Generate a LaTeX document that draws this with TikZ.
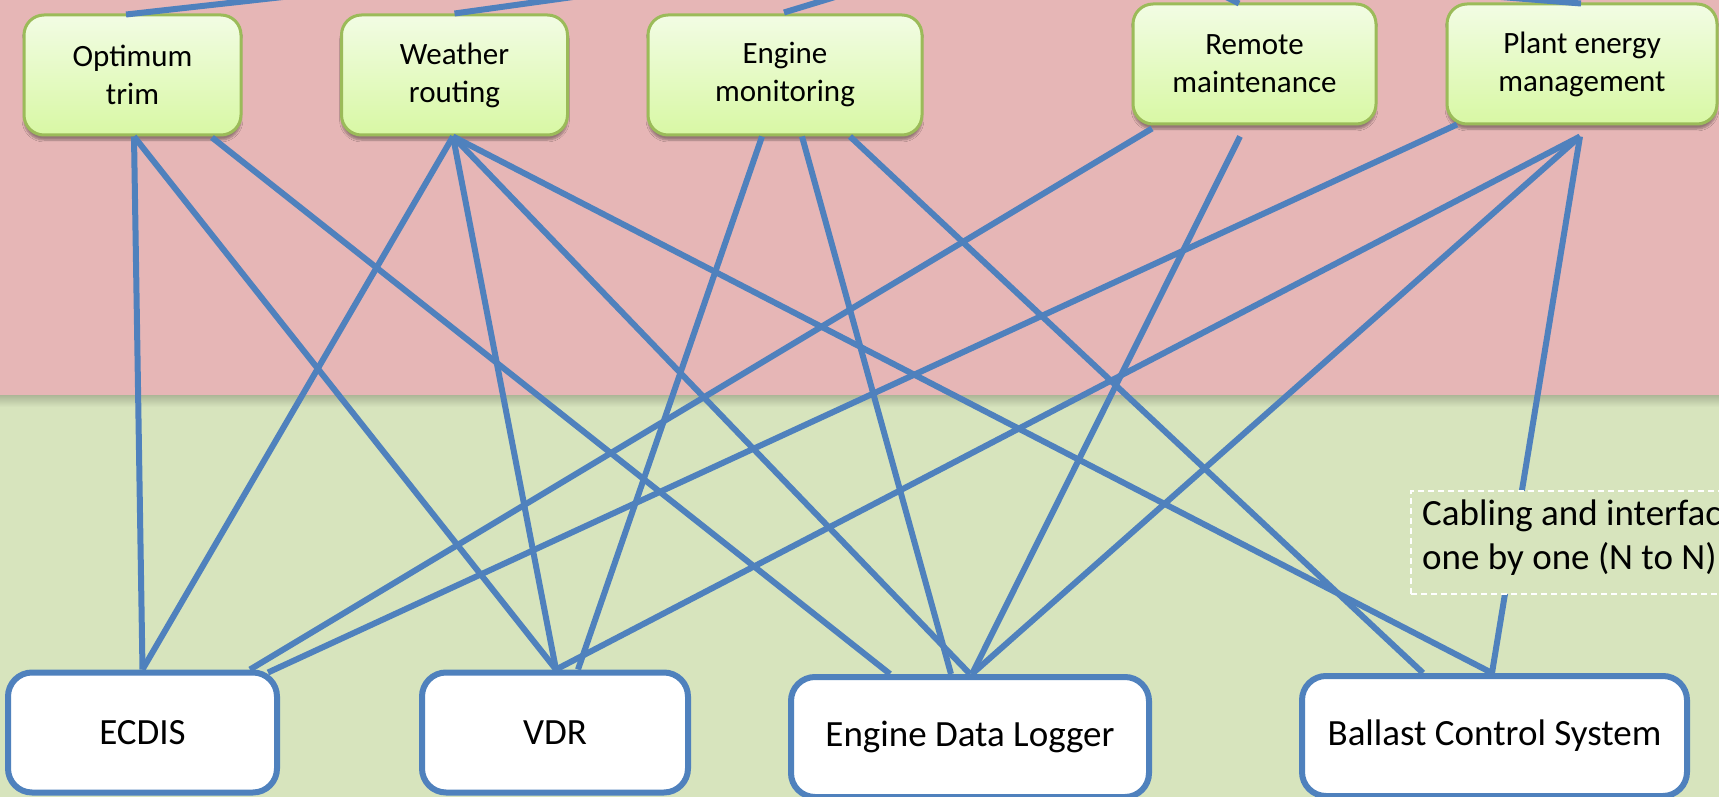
\documentclass[tikz,border=0pt]{standalone}
\usepackage{fontspec}
\setmainfont{Carlito}
\usetikzlibrary{calc,shadows.blur}

\definecolor{topband}{HTML}{E6B6B6}
\definecolor{lowband}{HTML}{D7E4BD}
\definecolor{wirec}{HTML}{4F81BD}
\definecolor{appedge}{HTML}{9BBB59}
\definecolor{apptop}{HTML}{F2FCE4}
\definecolor{appbot}{HTML}{D8F8A4}

\begin{document}
\begin{tikzpicture}[x=1pt,y=-1pt,
  app/.style={rounded corners=20pt, draw=appedge, line width=3pt,
    top color=apptop, bottom color=appbot, minimum height=120pt,
    align=center, inner sep=0pt, font=\fontsize{31}{38}\selectfont,
    blur shadow={shadow xshift=0pt, shadow yshift=-5pt,
      shadow blur steps=6, shadow opacity=35}},
  sys/.style={rounded corners=24pt, draw=wirec, line width=6pt, fill=white,
    minimum height=120pt, inner sep=0pt, font=\fontsize{37}{44}\selectfont},
  wire/.style={draw=wirec, line width=6pt},
  notebox/.style={draw=white, line width=1.5pt, dash pattern=on 6pt off 4pt,
    fill=lowband, minimum width=420pt, minimum height=103pt, inner sep=0pt},
  notetext/.style={align=left, inner sep=0pt, font=\fontsize{37}{44}\selectfont}]

\useasboundingbox (0,0) rectangle (1719,797);
\clip (0,0) rectangle (1719,797);

% two bands: applications above, ship systems below
\fill[topband] (0,0) rectangle (1719,395);
\fill[lowband] (0,395) rectangle (1719,797);
\shade[top color=lowband!80!black, bottom color=lowband] (0,395) rectangle (1719,407);

% applications
\node[app, minimum width=217pt] (OT)  at (132.5,75) {Optimum\\trim};
\node[app, minimum width=226pt] (WR)  at (454.5,75) {Weather\\routing};
\node[app, minimum width=274pt] (EM)  at (785,75)   {Engine\\monitoring};
\node[app, minimum width=243pt] (RM)  at (1254.5,64) {Remote\\maintenance};
\node[app, minimum width=270pt] (PEM) at (1582,64)  {Plant energy\\management};

% ship systems
\node[sys, minimum width=269pt] (ECDIS) at (142.5,732.5) {ECDIS};
\node[sys, minimum width=266pt] (VDR)   at (555,732.5)   {VDR};
\node[sys, minimum width=358pt] (EDL)   at (970,737)     {Engine Data Logger};
\node[sys, minimum width=385pt] (BCS)   at (1494.5,736)  {Ballast Control System};

% links leaving towards the top edge
\coordinate (upOT)  at (283,-3);
\coordinate (upWR)  at (573,-3);
\coordinate (upEM)  at (835,-3);
\coordinate (upRM)  at (1226,-3);
\coordinate (upPEM) at (1501,-3);
\draw[wire] ($(OT.north)+(-6.5,1)$) -- (upOT);
\draw[wire] (WR.north) -- (upWR);
\draw[wire] ($(EM.north)+(-1,-1)$) -- (upEM);
\draw[wire] ($(RM.north)+(-15.5,1)$) -- (upRM);
\draw[wire] ($(PEM.north)+(-1,1)$) -- (upPEM);

% point-to-point cabling
\draw[wire] ($(OT.south)+(1.5,0)$) -- (ECDIS.north);
\draw[wire] ($(OT.south)+(1.5,0)$) -- ($(VDR.north)+(1,0)$);
\draw[wire] ($(OT.south)+(79.5,1)$) -- ($(EDL.north)+(-80,0)$);

\draw[wire] ($(WR.south)+(-1.5,0)$) -- (ECDIS.north);
\draw[wire] ($(WR.south)+(-1.5,0)$) -- ($(VDR.north)+(1,0)$);
\draw[wire] ($(WR.south)+(-1.5,0)$) -- (EDL.north);
\draw[wire] ($(WR.south)+(-1.5,0)$) -- ($(BCS.north)+(-2.5,0)$);

\draw[wire] ($(EM.south)+(-23,0)$) -- ($(VDR.north)+(23,0)$);
\draw[wire] ($(EM.south)+(17,0)$)  -- ($(EDL.north)+(-19,0)$);
\draw[wire] ($(EM.south)+(65,0)$)  -- ($(BCS.north)+(-71.5,0)$);

\draw[wire] ($(RM.south)+(-102.5,3)$) -- ($(ECDIS.north)+(107.5,0)$);
\draw[wire] ($(RM.south)+(-14.5,11)$) -- ($(EDL.north)+(2,0)$);

\draw[wire] ($(PEM.south)+(-125,-1)$) -- ($(ECDIS.north)+(125.5,3)$);
\draw[wire] ($(PEM.south)+(-2,11)$) -- ($(VDR.north)+(1,0)$);
\draw[wire] ($(PEM.south)+(-2,11)$) -- ($(EDL.north)+(2,0)$);
\draw[wire] ($(PEM.south)+(-2,11)$) -- ($(BCS.north)+(-2.5,0)$);

% remark box over the cabling
\node[notebox, anchor=north west] (NOTE) at (1410,490) {};
\node[notetext, anchor=west] (NOTETXT) at (1422,538)
  {Cabling and interfaces\\one by one (N to N)};

\end{tikzpicture}
\end{document}
